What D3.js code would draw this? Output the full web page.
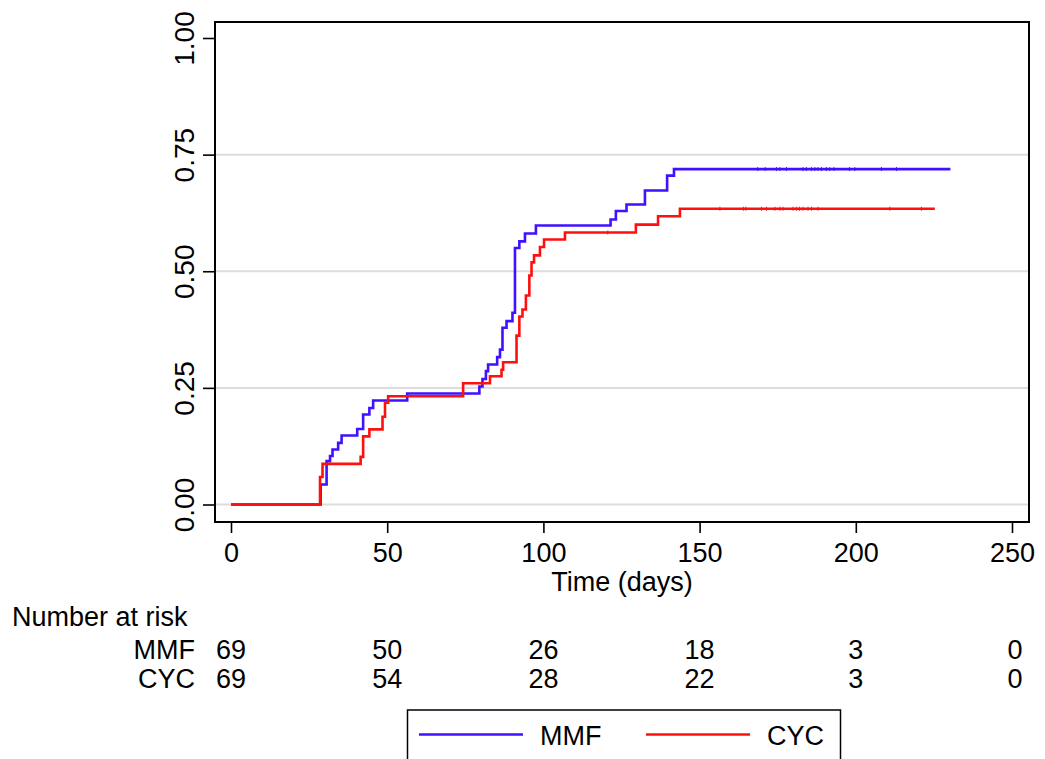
<!DOCTYPE html>
<html>
<head>
<meta charset="utf-8">
<script src="https://cdn.jsdelivr.net/npm/d3@7"></script>
<style>
  body { margin: 0; background: #fff; }
  text { font-family: "Liberation Sans", Arial, Helvetica, sans-serif; fill: #000; }
</style>
</head>
<body>
<svg id="chart" width="1045" height="759"></svg>
<script>
// cumulative incidence steps
var mmfTime = [0, 28.7, 30.6, 31.7, 32.5, 34.3, 35.4, 40.4, 42.3, 44.3, 45.5, 56.4, 79.5, 80.5, 81.6, 82.3, 85.2, 86.1, 86.9, 88.2, 90.1, 90.9, 92.3, 94.1, 97.6, 121.5, 123.2, 126.6, 132.5, 139.6, 141.8];
var mmfCum = [0, 0.043, 0.093, 0.104, 0.118, 0.132, 0.148, 0.162, 0.193, 0.207, 0.223, 0.238, 0.253, 0.269, 0.286, 0.300, 0.316, 0.332, 0.379, 0.393, 0.411, 0.550, 0.564, 0.581, 0.598, 0.611, 0.629, 0.643, 0.673, 0.705, 0.719];
var mmfEnd = 230.3;
var mmfCensor = [168.6, 171, 174.6, 175.7, 177.8, 183.1, 184.2, 185.8, 186.9, 187.9, 189, 190.6, 191.7, 193, 198, 199.7, 208.2, 213];

var cycTime = [0, 28.5, 29.3, 41.5, 42.3, 44.3, 48.5, 49.3, 50.3, 74.3, 82.9, 86.6, 87.1, 91.4, 92.3, 93.3, 94.4, 95.5, 96.2, 97.0, 98.9, 100.2, 106.9, 129.6, 136.7, 143.7];
var cycCum = [0, 0.059, 0.087, 0.102, 0.146, 0.161, 0.188, 0.218, 0.232, 0.260, 0.275, 0.289, 0.305, 0.362, 0.403, 0.418, 0.448, 0.491, 0.519, 0.534, 0.552, 0.568, 0.583, 0.600, 0.618, 0.634];
var cycEnd = 225.3;
var cycCensor = [120.6, 156.5, 164, 164.8, 169.8, 171.4, 174.1, 175.7, 176.7, 179.9, 181, 182, 183.1, 184.7, 185.8, 187.9, 210.9, 221];

var xTicks = [0, 50, 100, 150, 200, 250];
var yTicks = [0, 0.25, 0.5, 0.75, 1];
var gridTicks = [0, 0.25, 0.5, 0.75];

var groups = ["MMF", "CYC"];
var colors = ["#4010ff", "#ff1010"];
var mmfRisk = [69, 50, 26, 18, 3, 0];
var cycRisk = [69, 54, 28, 22, 3, 0];

var svg = d3.select("#chart");

var x = d3.scaleLinear().domain([0, 250]).range([231, 1012]);
var y = d3.scaleLinear().domain([0, 1]).range([504.5, 38]);

var frame = { left: 215, right: 1029, top: 22, bottom: 522 };

// grid
svg.append("g")
  .selectAll("line")
  .data(gridTicks)
  .enter()
  .append("line")
  .attr("x1", frame.left)
  .attr("x2", frame.right)
  .attr("y1", function (d) { return y(d); })
  .attr("y2", function (d) { return y(d); })
  .attr("stroke", "#dddddd")
  .attr("stroke-width", 2);

// curves
var line = d3.line()
  .x(function (d) { return x(d[0]); })
  .y(function (d) { return y(d[1]); })
  .curve(d3.curveStepAfter);

function steps(times, cum, end) {
  var pts = times.map(function (t, i) { return [t, cum[i]]; });
  pts.push([end, cum[cum.length - 1]]);
  return pts;
}

// value of the curve at time t
function valueAt(times, cum, t) {
  var v = 0;
  times.forEach(function (tt, i) { if (tt <= t) v = cum[i]; });
  return v;
}

var series = [
  { times: mmfTime, cum: mmfCum, end: mmfEnd, censor: mmfCensor, color: colors[0] },
  { times: cycTime, cum: cycCum, end: cycEnd, censor: cycCensor, color: colors[1] }
];

series.forEach(function (s) {
  svg.append("path")
    .attr("d", line(steps(s.times, s.cum, s.end)))
    .attr("fill", "none")
    .attr("stroke", s.color)
    .attr("stroke-width", 2.6);

  svg.append("g")
    .selectAll("line")
    .data(s.censor)
    .enter()
    .append("line")
    .attr("x1", function (d) { return x(d); })
    .attr("x2", function (d) { return x(d); })
    .attr("y1", function (d) { return y(valueAt(s.times, s.cum, d)) - 2; })
    .attr("y2", function (d) { return y(valueAt(s.times, s.cum, d)) + 2; })
    .attr("stroke", s.color)
    .attr("stroke-width", 1);
});

// frame
svg.append("rect")
  .attr("x", frame.left)
  .attr("y", frame.top)
  .attr("width", frame.right - frame.left)
  .attr("height", frame.bottom - frame.top)
  .attr("fill", "none")
  .attr("stroke", "#000")
  .attr("stroke-width", 2);

// y axis
var yAxis = svg.append("g")
  .attr("transform", "translate(" + frame.left + ",0)")
  .call(d3.axisLeft(y).tickValues(yTicks).tickFormat(d3.format(".2f")).tickSize(12).tickSizeOuter(0));
yAxis.select(".domain").remove();
yAxis.selectAll("line").attr("stroke-width", 1.6);
yAxis.selectAll("text")
  .attr("transform", "rotate(-90)")
  .attr("x", 0)
  .attr("y", -21)
  .attr("dy", 0)
  .style("text-anchor", "middle")
  .style("font-size", "28px")
  .style("font-family", "Liberation Sans, Arial, sans-serif");

// x axis
var xAxis = svg.append("g")
  .attr("transform", "translate(0," + frame.bottom + ")")
  .call(d3.axisBottom(x).tickValues(xTicks).tickSize(11).tickSizeOuter(0));
xAxis.select(".domain").remove();
xAxis.selectAll("line").attr("stroke-width", 1.6);
xAxis.selectAll("text")
  .attr("y", 40)
  .attr("dy", 0)
  .style("font-size", "27px")
  .style("font-family", "Liberation Sans, Arial, sans-serif");

svg.append("text")
  .attr("x", (frame.left + frame.right) / 2)
  .attr("y", 591)
  .attr("text-anchor", "middle")
  .style("font-size", "27px")
  .text("Time (days)");

// number at risk table
svg.append("text")
  .attr("x", 12)
  .attr("y", 626)
  .style("font-size", "27px")
  .text("Number at risk");

var riskRows = [mmfRisk, cycRisk];
var rowY = [659, 688];
riskRows.forEach(function (row, r) {
  svg.append("text")
    .attr("x", 195)
    .attr("y", rowY[r])
    .attr("text-anchor", "end")
    .style("font-size", "27px")
    .text(groups[r]);
  svg.append("g")
    .selectAll("text")
    .data(row)
    .enter()
    .append("text")
    .attr("x", function (d, i) { return x(xTicks[i]) + (i === xTicks.length - 1 ? 3 : 0); })
    .attr("y", rowY[r])
    .attr("text-anchor", "middle")
    .style("font-size", "27px")
    .text(function (d) { return d; });
});

// legend
var leg = svg.append("g");
leg.append("rect")
  .attr("x", 407.5)
  .attr("y", 710)
  .attr("width", 433)
  .attr("height", 70)
  .attr("fill", "#fff")
  .attr("stroke", "#000")
  .attr("stroke-width", 1.5);

var legX = [419, 646];
groups.forEach(function (g, i) {
  leg.append("line")
    .attr("x1", legX[i])
    .attr("x2", legX[i] + 104)
    .attr("y1", 734.5)
    .attr("y2", 734.5)
    .attr("stroke", colors[i])
    .attr("stroke-width", 2.6);
  leg.append("text")
    .attr("x", legX[i] + 121)
    .attr("y", 745)
    .style("font-size", "27px")
    .text(g);
});
</script>
</body>
</html>
